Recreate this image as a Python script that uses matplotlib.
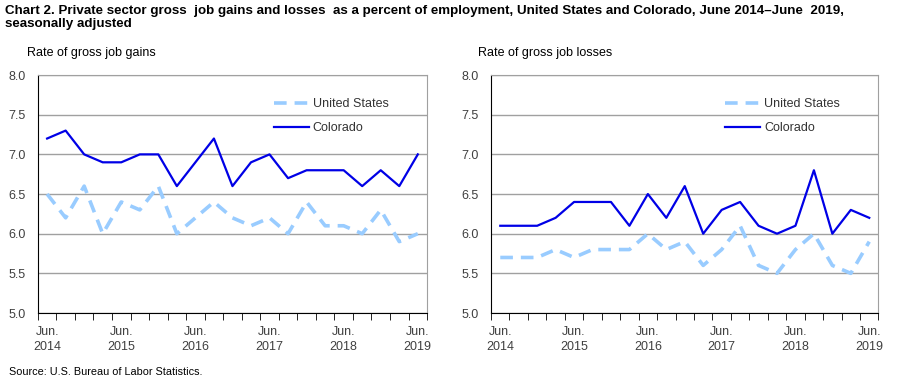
import matplotlib.pyplot as plt
import numpy as np

# quarterly, June 2014 - June 2019
quarters = list(range(21))
tick_labels = ['Jun.\n2014', 'Jun.\n2015', 'Jun.\n2016', 'Jun.\n2017', 'Jun.\n2018', 'Jun.\n2019']
tick_pos = [0, 4, 8, 12, 16, 20]

us_gains = [6.5, 6.2, 6.6, 6.0, 6.4, 6.3, 6.6, 6.0, 6.2, 6.4, 6.2, 6.1, 6.2, 6.0, 6.4, 6.1, 6.1, 6.0, 6.3, 5.9, 6.0]
co_gains = [7.2, 7.3, 7.0, 6.9, 6.9, 7.0, 7.0, 6.6, 6.9, 7.2, 6.6, 6.9, 7.0, 6.7, 6.8, 6.8, 6.8, 6.6, 6.8, 6.6, 7.0]
us_losses = [5.7, 5.7, 5.7, 5.8, 5.7, 5.8, 5.8, 5.8, 6.0, 5.8, 5.9, 5.6, 5.8, 6.1, 5.6, 5.5, 5.8, 6.0, 5.6, 5.5, 5.9]
co_losses = [6.1, 6.1, 6.1, 6.2, 6.4, 6.4, 6.4, 6.1, 6.5, 6.2, 6.6, 6.0, 6.3, 6.4, 6.1, 6.0, 6.1, 6.8, 6.0, 6.3, 6.2]

plt.rcParams['font.family'] = ['Liberation Sans', 'DejaVu Sans']

us_col = '#99CCFF'
co_col = '#0000E6'
grid_col = '#A0A0A0'
tick_col = '#404040'

fig = plt.figure(figsize=(9.01, 3.85), dpi=100)

fig.text(0.006, 0.988, 'Chart 2. Private sector gross  job gains and losses  as a percent of employment, United States and Colorado, June 2014\u2013June  2019,\nseasonally adjusted',
         fontsize=9.6, fontweight='bold', va='top', ha='left', linespacing=1.15)
fig.text(0.01, 0.034, 'Source: U.S. Bureau of Labor Statistics.', fontsize=7.8, va='center')

panels = [
    ([0.042, 0.187, 0.432, 0.618], us_gains, co_gains, 'Rate of gross job gains', -0.028),
    ([0.545, 0.187, 0.430, 0.618], us_losses, co_losses, 'Rate of gross job losses', -0.033),
]

for rect, us, co, ylab, lab_x in panels:
    ax = fig.add_axes(rect)
    ax.plot(quarters, us, color=us_col, lw=2.6, dashes=(3.5, 2.2), label='United States')
    ax.plot(quarters, co, color=co_col, lw=1.6, label='Colorado')
    ax.set_ylim(5.0, 8.0)
    ax.set_xlim(-0.5, 20.5)
    ax.set_yticks(np.arange(5.0, 8.01, 0.5))
    ax.set_yticklabels(['%.1f' % v for v in np.arange(5.0, 8.01, 0.5)], fontsize=9, color=tick_col)
    ax.yaxis.grid(True, color=grid_col, lw=1)
    ax.set_axisbelow(True)
    ax.tick_params(axis='y', length=0, pad=9)
    ax.set_xticks(tick_pos)
    ax.set_xticklabels(tick_labels, fontsize=9, linespacing=1.35, color=tick_col)
    ax.tick_params(axis='x', which='major', length=0, pad=9)
    ax.set_xticks(np.arange(-0.5, 21, 1), minor=True)
    ax.tick_params(axis='x', which='minor', length=5, direction='out', color='black')
    for s in ['top', 'right']:
        ax.spines[s].set_color(grid_col)
    for s in ['left', 'bottom']:
        ax.spines[s].set_color('black')
    ax.text(lab_x, 1.092, ylab, transform=ax.transAxes, fontsize=9, ha='left', va='center')
    leg = ax.legend(loc='upper right', bbox_to_anchor=(0.93, 0.95), frameon=False, fontsize=9,
                    handlelength=2.8, labelspacing=0.95, handletextpad=0.3)
    for t in leg.get_texts():
        t.set_color('#333333')

fig.savefig('out.png', dpi=100)
